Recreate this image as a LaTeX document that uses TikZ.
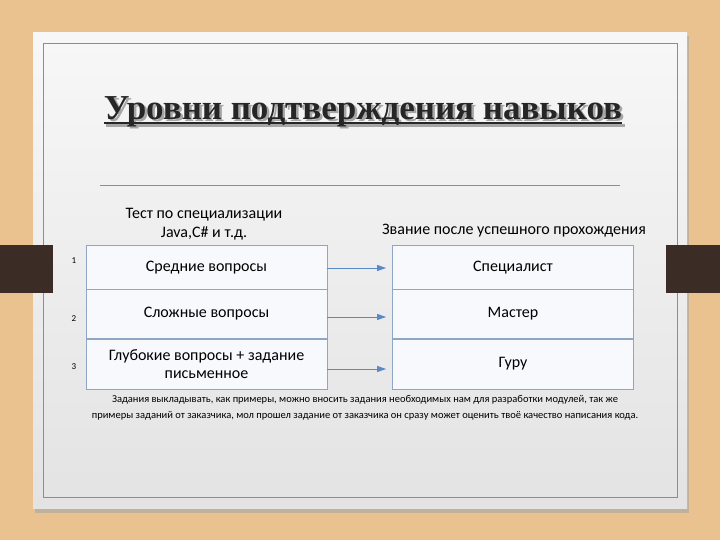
\documentclass[tikz,border=0pt]{standalone}
\usepackage{fontspec}
\setmainfont{Carlito}
\newfontfamily\titlefont{Liberation Serif}
\usetikzlibrary{arrows.meta}
\definecolor{wood}{HTML}{E9C28F}
\definecolor{tab}{HTML}{3B2D25}
\definecolor{olive}{HTML}{8E9B45}
\definecolor{boxline}{HTML}{8FA7C5}
\definecolor{arrowc}{HTML}{5A8AC4}
\definecolor{boxfill}{HTML}{F7F9FC}
\begin{document}
\begin{tikzpicture}[x=1pt,y=-1pt,
  cell/.style={draw=boxline,line width=0.8pt,fill=boxfill,minimum width=241pt,inner sep=0pt,align=center,font=\fontsize{16}{18}\selectfont},
  hdr/.style={align=center,font=\fontsize{16}{19}\selectfont,inner sep=0pt},
  num/.style={font=\fontsize{9}{10}\selectfont,inner sep=0pt},
  ttl/.style={anchor=base,font=\titlefont\bfseries\fontsize{35}{38}\selectfont,inner sep=0pt},
  link/.style={draw=arrowc,line width=0.8pt,-{Triangle[length=9pt,width=6pt]},shorten >=6pt}]
\useasboundingbox (0,0) rectangle (720,540);
% background
\fill[wood] (0,0) rectangle (720,540);
% card with shadow
\fill[black!35,opacity=0.6] (35,36) rectangle (689,513);
\shade[top color=white!97!black,bottom color=white!89!black] (33,33) rectangle (687,508);
\draw[olive,line width=0.6pt] (43,43) rectangle (677,497);
% tabs
\fill[tab] (0,245) rectangle (53,293);
\fill[tab] (666,245) rectangle (720,293);
% title with shadow
\node[ttl,text=black!35] (titleshadow) at (365.5,122) {Уровни подтверждения навыков};
\fill[black!35] ([yshift=-2pt]titleshadow.base west) rectangle ([yshift=-5pt]titleshadow.base east);
\node[ttl,text=black!85] (title) at (363,120) {Уровни подтверждения навыков};
\fill[black!85] ([yshift=-2pt]title.base west) rectangle ([yshift=-4.5pt]title.base east);
% separator line
\draw[olive,line width=0.6pt] (100,185) -- (620,185);
% headers
\node[hdr] (hl) at (204,224) {Тест по специализации\\Java,C\# и т.д.};
\node[hdr] (hr) at (514,231) {Звание после успешного прохождения};
% left column
\node[cell,minimum height=45pt] (l1) at (206.5,267.5) {Средние вопросы};
\node[cell,minimum height=49pt] (l2) at (206.5,314) {Сложные вопросы};
\node[cell,minimum height=50pt] (l3) at (206.5,364) {Глубокие вопросы + задание\\письменное};
% right column
\node[cell,minimum height=45pt] (r1) at (513,267.5) {Специалист};
\node[cell,minimum height=49pt] (r2) at (513,314) {Мастер};
\node[cell,minimum height=50pt] (r3) at (513,364) {Гуру};
% numbers
\node[num] (n1) at (74,261) {1};
\node[num] (n2) at (74,319) {2};
\node[num] (n3) at (74,367) {3};
% arrows
\draw[link] ([yshift=-0.5pt]l1.east) -- ([yshift=-0.5pt]r1.west);
\draw[link] ([yshift=-3pt]l2.east) -- ([yshift=-3pt]r2.west);
\draw[link] ([yshift=-5pt]l3.east) -- ([yshift=-5pt]r3.west);
% note
\node[align=center,font=\fontsize{10.5}{15.5}\selectfont,inner sep=0pt] (note) at (365,408) {Задания выкладывать, как примеры, можно вносить задания необходимых нам для разработки модулей, так же\\примеры заданий от заказчика, мол прошел задание от заказчика он сразу может оценить твоё качество написания кода.};
\end{tikzpicture}
\end{document}
